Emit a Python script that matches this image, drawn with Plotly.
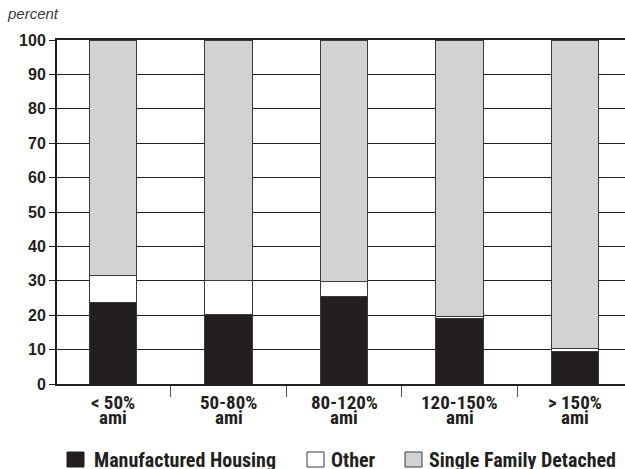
import plotly.graph_objects as go

categories = ["< 50%", "50-80%", "80-120%", "120-150%", "> 150%"]
category_sub = ["ami", "ami", "ami", "ami", "ami"]
manufactured = [23.7, 20.2, 25.4, 19.0, 9.4]
other = [7.7, 9.8, 4.5, 0.5, 1.0]
single_family = [68.6, 70.0, 70.1, 80.5, 89.6]
y_ticks = [0, 10, 20, 30, 40, 50, 60, 70, 80, 90, 100]

series = [
    ("Manufactured Housing", manufactured, "#231f20"),
    ("Other", other, "#ffffff"),
    ("Single Family Detached", single_family, "#d1d2d4"),
]

COND = "Roboto Condensed, Roboto, sans-serif"
HELV = "Liberation Sans, Arial, sans-serif"
INK = "#231f20"

W, H = 625, 469
L, R, T, B = 57, 0, 40, 85
PW, PH = W - L - R, H - T - B


def px_x(p):
    return (p - L) / PW


def px_y(p):
    return (H - B - p) / PH


fig = go.Figure()
for name, vals, color in series:
    fig.add_trace(go.Bar(
        x=categories, y=vals, name=name, width=0.415,
        marker=dict(color=color, line=dict(color="#3a3a3a", width=1)),
        showlegend=False,
    ))

annotations = [dict(
    text="percent", xref="paper", yref="paper", x=px_x(5), y=px_y(13),
    xanchor="left", yanchor="middle", showarrow=False,
    font=dict(family=HELV, size=15, color="#3a3a3a", style="italic"),
)]
for cat, sub in zip(categories, category_sub):
    annotations.append(dict(text=cat, x=cat, xref="x", yref="paper", y=px_y(402),
                            xanchor="center", yanchor="middle", showarrow=False,
                            font=dict(family=COND, size=19, color=INK, weight="bold")))
    annotations.append(dict(text=sub, x=cat, xref="x", yref="paper", y=px_y(417),
                            xanchor="center", yanchor="middle", showarrow=False,
                            font=dict(family=COND, size=19, color=INK, weight="bold")))

# manual legend (swatch left px, text left px)
legend_pos = [(67, 92), (307, 329), (405, 427)]
shapes = []
for (name, _, color), (sx, tx) in zip(series, legend_pos):
    shapes.append(dict(type="rect", xref="paper", yref="paper",
                       x0=px_x(sx), x1=px_x(sx + 17), y0=px_y(467), y1=px_y(452),
                       fillcolor=color, line=dict(color="#231f20" if color == INK else "#3a3a3a", width=1)))
    annotations.append(dict(text=name, xref="paper", yref="paper", x=px_x(tx), y=px_y(459.5),
                            xanchor="left", yanchor="middle", showarrow=False,
                            font=dict(family=COND, size=20, color=INK, weight="bold")))

fig.update_layout(
    barmode="stack",
    width=W, height=H,
    margin=dict(l=L, r=R, t=T, b=B, autoexpand=False),
    paper_bgcolor="white", plot_bgcolor="white",
    showlegend=False,
    xaxis=dict(
        type="category", range=[-0.485, 4.433],
        tickson="boundaries", ticks="outside", ticklen=11, tickcolor="#555555", tickwidth=1,
        showticklabels=False,
        showline=True, linecolor=INK, linewidth=2, mirror=True,
        showgrid=False,
    ),
    yaxis=dict(
        range=[0, 100], tickvals=y_ticks,
        ticks="outside", ticklen=6, tickcolor=INK, tickwidth=1,
        showline=True, linecolor=INK, linewidth=2,
        showgrid=True, gridcolor=INK, gridwidth=1,
        zeroline=False,
        tickfont=dict(family=HELV, size=16, color=INK, weight="bold"),
    ),
    annotations=annotations,
    shapes=shapes,
)

fig.write_html(
    "out.html",
    config={"displayModeBar": False},
    post_script="document.body.style.margin='0';document.body.style.overflow='hidden';",
)
